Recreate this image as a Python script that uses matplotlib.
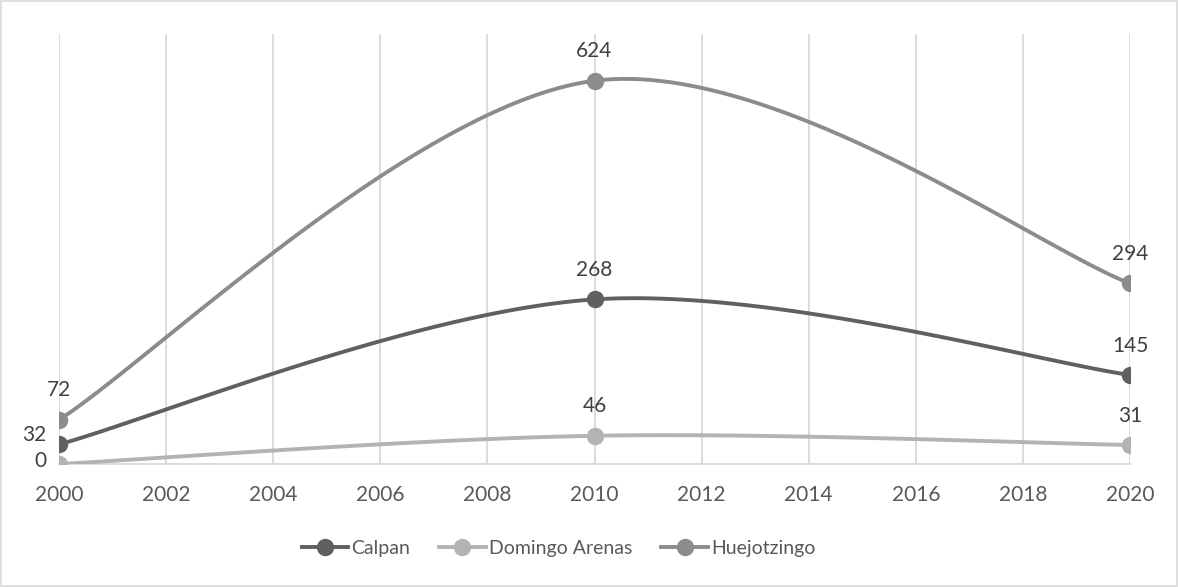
import numpy as np
import matplotlib
matplotlib.use("Agg")
import matplotlib.pyplot as plt
from matplotlib.patches import Rectangle

years = [2000, 2010, 2020]
calpan = [32, 268, 145]
domingo_arenas = [0, 46, 31]
huejotzingo = [72, 624, 294]
xticks = list(range(2000, 2021, 2))

series = [
    ("Calpan", calpan, "#606060"),
    ("Domingo Arenas", domingo_arenas, "#b3b3b3"),
    ("Huejotzingo", huejotzingo, "#8c8c8c"),
]


def smooth(xs, ys, n=60):
    """Cardinal-style bezier through the points, like a spreadsheet's smoothed line."""
    p = np.column_stack([xs, ys]).astype(float)
    out = []
    for i in range(len(p) - 1):
        prev = p[i - 1] if i > 0 else p[i]
        nxt = p[i + 2] if i + 2 < len(p) else p[i + 1]
        c1 = p[i] + (p[i + 1] - prev) / 6
        c2 = p[i + 1] - (nxt - p[i]) / 6
        t = np.linspace(0, 1, n)[:, None]
        seg = ((1 - t) ** 3 * p[i] + 3 * (1 - t) ** 2 * t * c1
               + 3 * (1 - t) * t ** 2 * c2 + t ** 3 * p[i + 1])
        out.append(seg if i == 0 else seg[1:])
    s = np.vstack(out)
    return s[:, 0], s[:, 1]


plt.rcParams["font.family"] = ["Lato", "DejaVu Sans"]
fig = plt.figure(figsize=(11.78, 5.87), dpi=100)
fig.patches.append(Rectangle((0.001, 0.001), 0.998, 0.997, transform=fig.transFigure,
                             fill=False, edgecolor="#d9d9d9", lw=1.2))
ax = fig.add_axes([0.0501, 0.2095, 0.9092, 0.7325])

for name, vals, col in series:
    sx, sy = smooth(years, vals)
    ax.plot(sx, sy, color=col, lw=2.8, solid_capstyle="round", zorder=3)
    ax.plot(years, vals, "o", color=col, ms=11.5, zorder=4)
    ax.plot([], [], "-o", color=col, lw=2.8, ms=11.5, label=name)

# value labels; the two lowest at 2000 sit to the left of their markers
for name, vals, col in series:
    for x, v in zip(years, vals):
        if x == 2000 and v in (0, 32):
            ax.annotate(str(v), (x, v), xytext=(-9, 7 if v else 2), textcoords="offset points",
                        ha="right", va="center", fontsize=15, color="#404040")
        else:
            ax.annotate(str(v), (x, v), xytext=(0, 14), textcoords="offset points",
                        ha="center", va="bottom", fontsize=15, color="#404040")

ax.set_xlim(2000, 2020)
ax.set_ylim(0, 700)
ax.set_xticks(xticks)
ax.set_yticks([])
ax.grid(axis="x", color="#d9d9d9", lw=1.3)
ax.set_axisbelow(True)
for s in ["top", "left", "right"]:
    ax.spines[s].set_visible(False)
ax.spines["bottom"].set_color("#d9d9d9")
ax.spines["bottom"].set_linewidth(1.3)
ax.tick_params(axis="x", length=0, pad=15, labelsize=15, labelcolor="#595959")
ax.tick_params(axis="y", length=0)

leg = fig.legend(loc="center", bbox_to_anchor=(0.474, 0.066), ncol=3, frameon=False,
                 fontsize=14, handlelength=2.4, columnspacing=1.5, handletextpad=0.15)
for t in leg.get_texts():
    t.set_color("#595959")

fig.savefig("out.png", dpi=100)
